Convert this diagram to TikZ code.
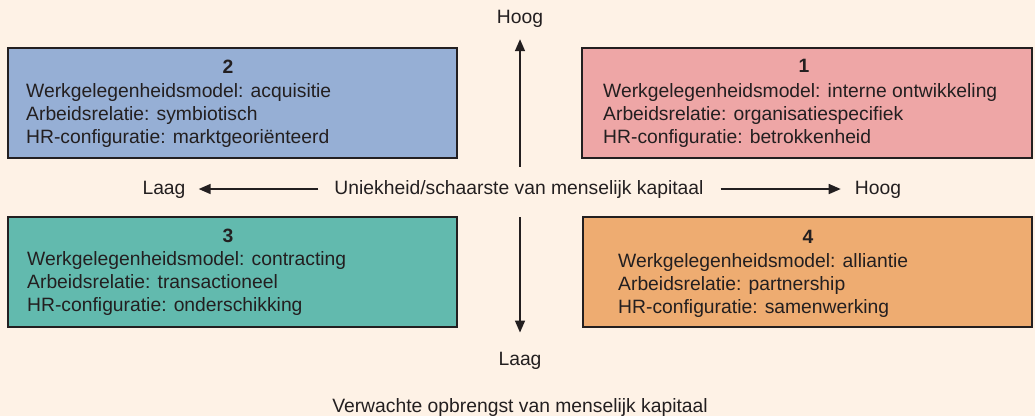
\documentclass[tikz,border=0pt]{standalone}
\usepackage{fontspec}
\setmainfont{Liberation Sans}
\usepackage{xcolor}
\usetikzlibrary{arrows.meta,positioning,calc}

\definecolor{achtergrond}{RGB}{254,242,230}
\definecolor{inkt}{RGB}{35,31,32}
\definecolor{blauw}{RGB}{150,175,213}
\definecolor{roze}{RGB}{238,166,166}
\definecolor{groen}{RGB}{98,186,174}
\definecolor{oranje}{RGB}{238,172,113}

\begin{document}
\begin{tikzpicture}[x=1pt,y=-1pt,
  vak/.style={rectangle, draw=inkt, line width=1.2pt, minimum width=449pt, minimum height=110pt, inner sep=0pt},
  regels/.style={anchor=base west, align=left, inner sep=0pt, text=inkt, font=\fontsize{19.3}{23}\selectfont},
  nummer/.style={anchor=base, inner sep=0pt, text=inkt, font=\fontsize{19.3}{23}\selectfont\bfseries},
  label/.style={anchor=base, inner sep=0pt, text=inkt, font=\fontsize{19.3}{23}\selectfont},
  pijl/.style={draw=inkt, line width=1.6pt, -{Triangle[length=12pt,width=10pt]}}]

  % achtergrond
  \fill[achtergrond] (0,0) rectangle (1035,416);
  \useasboundingbox (0,0) rectangle (1035,416);

  % kwadranten
  \node[vak, fill=blauw] (v2) at (232.5,103) {};
  \node[vak, fill=roze, minimum width=450pt] (v1) at (807,103) {};
  \node[vak, fill=groen] (v3) at (232.5,272) {};
  \node[vak, fill=oranje] (v4) at (807.5,272) {};

  \node[nummer] (n2) at (228,73) {2};
  \node[nummer] (n1) at (804,72) {1};
  \node[nummer] (n3) at (228,242) {3};
  \node[nummer] (n4) at (808,243) {4};

  % ankers op de basislijn van de laatste regel
  \node[regels] (t2) at (26,143) {Werkgelegenheidsmodel: acquisitie\\Arbeidsrelatie: symbiotisch\\HR-configuratie: marktgeoriënteerd};
  \node[regels] (t1) at (603,143) {Werkgelegenheidsmodel: interne ontwikkeling\\Arbeidsrelatie: organisatiespecifiek\\HR-configuratie: betrokkenheid};
  \node[regels] (t3) at (27,311) {Werkgelegenheidsmodel: contracting\\Arbeidsrelatie: transactioneel\\HR-configuratie: onderschikking};
  \node[regels] (t4) at (618,313) {Werkgelegenheidsmodel: alliantie\\Arbeidsrelatie: partnership\\HR-configuratie: samenwerking};

  % assen
  \node[label] (as1) at (519,194) {Uniekheid/schaarste van menselijk kapitaal};
  \node[label] (laag2) at (164,194) {Laag};
  \node[label] (hoog2) at (878,194) {Hoog};
  \node[label] (hoog1) at (520,23) {Hoog};
  \node[label] (laag1) at (520,365) {Laag};
  \node[label] (as2) at (520,412) {Verwachte opbrengst van menselijk kapitaal};

  \draw[pijl, shorten <=16pt, shorten >=13pt] (as1.west) -- (laag2.east |- as1.west);
  \draw[pijl, shorten <=17pt, shorten >=14pt] (as1.east) -- (hoog2.west |- as1.east);
  \draw[pijl, shorten <=13pt, shorten >=12pt] (hoog1.south |- as1.north) -- (hoog1.south);
  \draw[pijl, shorten <=19pt, shorten >=19pt] (laag1.north |- as1.south) -- (laag1.north);
\end{tikzpicture}
\end{document}
